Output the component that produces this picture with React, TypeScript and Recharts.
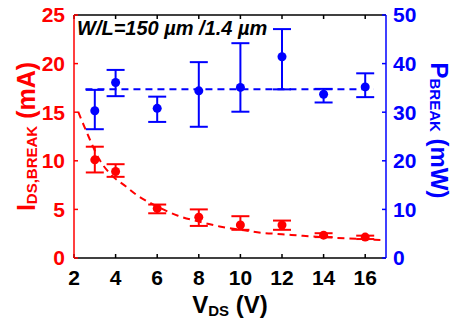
import { ComposedChart, Scatter, Line, XAxis, YAxis, ErrorBar } from "recharts";

const FONT = "'Liberation Sans', Arial, sans-serif";
const RED = "#ff0000";
const BLUE = "#0000ff";

// measured points
const vds = [3, 4, 6, 8, 10, 12, 14, 16];
const iBreak = [10.1, 8.9, 5.1, 4.2, 3.4, 3.4, 2.35, 2.15];
const iLow = [8.8, 8.35, 4.6, 3.3, 2.9, 2.9, 2.15, 1.95];
const iHigh = [11.45, 9.65, 5.5, 5.0, 4.3, 3.85, 2.55, 2.3];
const pBreak = [30.3, 36.1, 30.8, 34.4, 35.1, 41.4, 33.7, 35.2];
const pLow = [26.5, 33.3, 28.0, 27.0, 30.1, 34.7, 32.0, 33.1];
const pHigh = [34.6, 38.7, 33.2, 40.3, 44.2, 47.1, 34.8, 38.0];

// fitted curves
const iFitV = [2.2, 2.7, 3.2, 3.7, 4.5, 5.0, 6.0, 7.0, 8.0, 9.0, 10.0, 11.0, 12.0, 13.0, 14.0, 15.0, 16.0, 16.8];
const iFit = [15.05, 12.5, 10.2, 8.75, 7.35, 6.5, 5.3, 4.35, 3.75, 3.25, 2.9, 2.6, 2.45, 2.28, 2.15, 2.03, 1.93, 1.85];
const pFitV = [2.55, 16.4];
const pFit = [34.7, 34.7];

const xTicks = [2, 4, 6, 8, 10, 12, 14, 16];
const leftTicks = [0, 5, 10, 15, 20, 25];
const rightTicks = [0, 10, 20, 30, 40, 50];

const redData = vds.map((v, k) => ({
  v,
  i: iBreak[k],
  iErr: [iBreak[k] - iLow[k], iHigh[k] - iBreak[k]],
}));
const blueData = vds.map((v, k) => ({
  v,
  p: pBreak[k],
  pErr: [pBreak[k] - pLow[k], pHigh[k] - pBreak[k]],
}));
const redFit = iFitV.map((v, k) => ({ v, i: iFit[k] }));
const blueFit = pFitV.map((v, k) => ({ v, p: pFit[k] }));

const tickFont = { fontFamily: FONT, fontSize: 21, fontWeight: 700 };

const dot = (color: string) => (props: any) => (
  <circle cx={props.cx} cy={props.cy} r={4.5} fill={color} />
);

const LeftTitle = ({ viewBox }: any) => {
  const cx = 35;
  const cy = viewBox.y + viewBox.height / 2;
  return (
    <text
      x={cx}
      y={cy}
      transform={`rotate(-90, ${cx}, ${cy})`}
      textAnchor="middle"
      fill={RED}
      fontFamily={FONT}
      fontWeight={700}
      fontSize={25}
    >
      <tspan>I</tspan>
      <tspan fontSize={15} dy={2}>DS,BREAK</tspan>
      <tspan dy={-2}> (mA)</tspan>
    </text>
  );
};

const RightTitle = ({ viewBox }: any) => {
  const cx = 431;
  const cy = viewBox.y + viewBox.height / 2 - 6;
  return (
    <text
      x={cx}
      y={cy}
      transform={`rotate(90, ${cx}, ${cy})`}
      textAnchor="middle"
      fill={BLUE}
      fontFamily={FONT}
      fontWeight={700}
      fontSize={24}
    >
      <tspan>P</tspan>
      <tspan fontSize={15} dy={1}>BREAK</tspan>
      <tspan dy={-1}> (mW)</tspan>
    </text>
  );
};

const BottomTitle = ({ viewBox }: any) => {
  const cx = viewBox.x + viewBox.width / 2;
  return (
    <text x={cx} y={313} textAnchor="middle" fill="#000" fontFamily={FONT} fontWeight={700} fontSize={24}>
      <tspan>V</tspan>
      <tspan fontSize={15} dy={3}>DS</tspan>
      <tspan dy={-3}> (V)</tspan>
    </text>
  );
};

const Annotation = ({ viewBox }: any) => (
  <text
    x={viewBox.x + 3}
    y={35}
    fill="#000"
    fontFamily={FONT}
    fontWeight={700}
    fontStyle="italic"
    fontSize={20}
  >
    W/L=150 µm /1.4 µm
  </text>
);

export default function App() {
  return (
    <div style={{ position: "absolute", left: 0, top: 0, width: 452, height: 327, background: "#fff" }}>
      <ComposedChart width={452} height={327} margin={{ top: 14, right: 0, left: 0, bottom: 0 }}>
        <XAxis
          dataKey="v"
          type="number"
          domain={[2, 17]}
          ticks={xTicks}
          allowDataOverflow
          height={69}
          axisLine={{ stroke: "#000", strokeWidth: 1.5 }}
          tickLine={{ stroke: "#000", strokeWidth: 1.5 }}
          tickSize={-4}
          tickMargin={16}
          tick={{ ...tickFont, fill: "#000" }}
          label={{ content: <BottomTitle /> }}
        />
        <XAxis
          xAxisId="top"
          dataKey="v"
          orientation="top"
          type="number"
          domain={[2, 17]}
          ticks={xTicks}
          allowDataOverflow
          height={1}
          axisLine={{ stroke: "#000", strokeWidth: 1.5 }}
          tickLine={{ stroke: "#000", strokeWidth: 1.5 }}
          tickSize={-4}
          tickMargin={0}
          tickFormatter={() => ""}
          label={{ content: <Annotation /> }}
        />
        <YAxis
          yAxisId="left"
          type="number"
          domain={[0, 25]}
          ticks={leftTicks}
          width={74}
          axisLine={{ stroke: RED, strokeWidth: 1.5 }}
          tickLine={{ stroke: RED, strokeWidth: 1.5 }}
          tickSize={-4}
          tickMargin={13}
          tick={{ ...tickFont, fill: RED }}
          label={{ content: <LeftTitle /> }}
        />
        <YAxis
          yAxisId="right"
          orientation="right"
          type="number"
          domain={[0, 50]}
          ticks={rightTicks}
          width={66}
          axisLine={{ stroke: BLUE, strokeWidth: 1.5 }}
          tickLine={{ stroke: BLUE, strokeWidth: 1.5 }}
          tickSize={-4}
          tickMargin={11}
          tick={{ ...tickFont, fill: BLUE }}
          label={{ content: <RightTitle /> }}
        />
        <Line
          data={redFit}
          dataKey="i"
          yAxisId="left"
          type="monotone"
          stroke={RED}
          strokeWidth={2}
          strokeDasharray="7 5"
          dot={false}
          activeDot={false}
          isAnimationActive={false}
        />
        <Line
          data={blueFit}
          dataKey="p"
          xAxisId="top"
          yAxisId="right"
          type="linear"
          stroke={BLUE}
          strokeWidth={2}
          strokeDasharray="7 5"
          dot={false}
          activeDot={false}
          isAnimationActive={false}
        />
        <Scatter data={redData} dataKey="i" yAxisId="left" shape={dot(RED)} isAnimationActive={false}>
          <ErrorBar dataKey="iErr" direction="y" width={9} stroke={RED} strokeWidth={2} isAnimationActive={false} />
        </Scatter>
        <Scatter data={blueData} dataKey="p" yAxisId="right" shape={dot(BLUE)} isAnimationActive={false}>
          <ErrorBar dataKey="pErr" direction="y" width={9} stroke={BLUE} strokeWidth={2} isAnimationActive={false} />
        </Scatter>
      </ComposedChart>
    </div>
  );
}
